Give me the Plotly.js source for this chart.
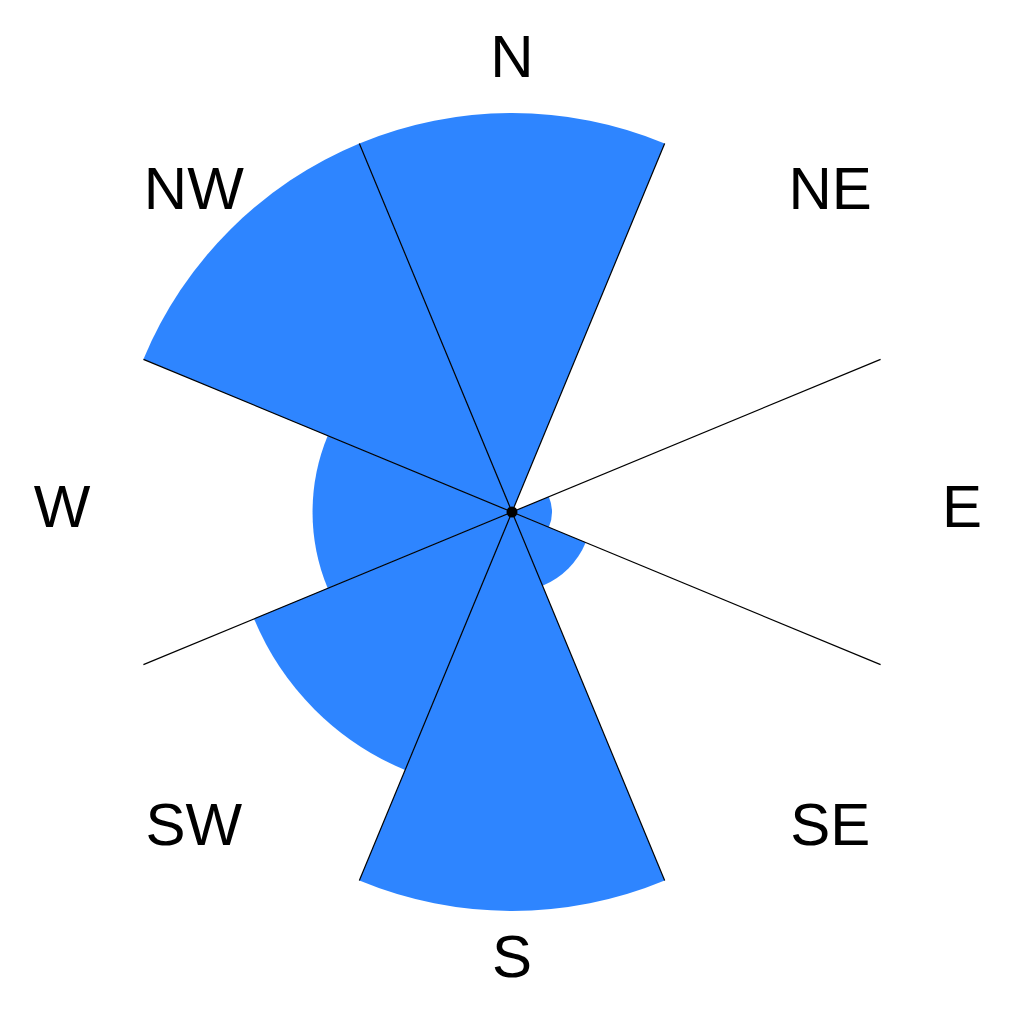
<!DOCTYPE html>
<html>
<head>
<meta charset="utf-8">
<script src="https://cdn.plot.ly/plotly-3.0.1.min.js"></script>
<style>
	html, body { margin: 0; padding: 0; background: #fff; }
	#rose { width: 1024px; height: 1024px; }
</style>
</head>
<body>
<div id="rose"></div>
<script>
"use strict";
var directions=['N', 'NE', 'E', 'SE', 'S', 'SW', 'W', 'NW'];
var counts=[10, 0, 1, 2, 10, 7, 5, 10];
var radialMax=10;

// hub marker at the centre of the rose
var hubR=[0];
var hubTheta=[0];

// sector boundaries (grid lines of the top subplot)
var boundaryAngles=[22.5, 67.5, 112.5, 157.5, 202.5, 247.5, 292.5, 337.5];

var barColor='rgb(46,133,255)';
var labelFont={family: 'Liberation Sans, Arial, sans-serif', size: 60, color: '#000'};
var labelRing=1.128; //names sit on a ring a bit outside the longest bar
var labelRadius=radialMax*labelRing;

var traces=[
	{
		type: 'barpolar',
		r: counts,
		theta: directions,
		subplot: 'polar',
		marker: {color: barColor, line: {width: 0}},
		hoverinfo: 'skip'
	},
	{ //direction names, centred on their angle
		type: 'scatterpolar',
		mode: 'text',
		r: directions.map(function(){ return labelRadius; }),
		theta: directions,
		text: directions,
		textposition: 'middle center',
		textfont: labelFont,
		cliponaxis: false,
		subplot: 'polar',
		hoverinfo: 'skip'
	},
	{ //second subplot, on top : sector boundary lines + hub
		type: 'scatterpolar',
		mode: 'markers',
		r: hubR,
		theta: hubTheta,
		subplot: 'polar2',
		marker: {color: '#000', size: 11},
		hoverinfo: 'skip'
	}
];

var inner=(1-1/labelRing)/2; //polar2 only spans the bars' radius
var layout={
	width: 1024,
	height: 1024,
	margin: {l: 62, r: 62, t: 62, b: 62},
	paper_bgcolor: '#fff',
	showlegend: false,
	polar: {
		domain: {x: [0, 1], y: [0, 1]},
		bgcolor: 'rgba(0,0,0,0)',
		bargap: 0,
		radialaxis: {visible: false, range: [0, labelRadius]},
		angularaxis: {
			type: 'category',
			direction: 'clockwise',
			rotation: 90,
			showgrid: false,
			showline: false,
			ticks: '',
			showticklabels: false
		}
	},
	polar2: {
		domain: {x: [inner, 1-inner], y: [inner, 1-inner]},
		bgcolor: 'rgba(0,0,0,0)',
		radialaxis: {visible: false, range: [0, radialMax]},
		angularaxis: {
			type: 'linear',
			thetaunit: 'degrees',
			direction: 'clockwise',
			rotation: 90,
			tickmode: 'array',
			tickvals: boundaryAngles,
			showgrid: true,
			gridcolor: '#000',
			gridwidth: 1.2,
			showline: false,
			ticks: '',
			showticklabels: false
		}
	}
};

Plotly.newPlot('rose', traces, layout, {staticPlot: true, displayModeBar: false});
</script>
</body>
</html>
